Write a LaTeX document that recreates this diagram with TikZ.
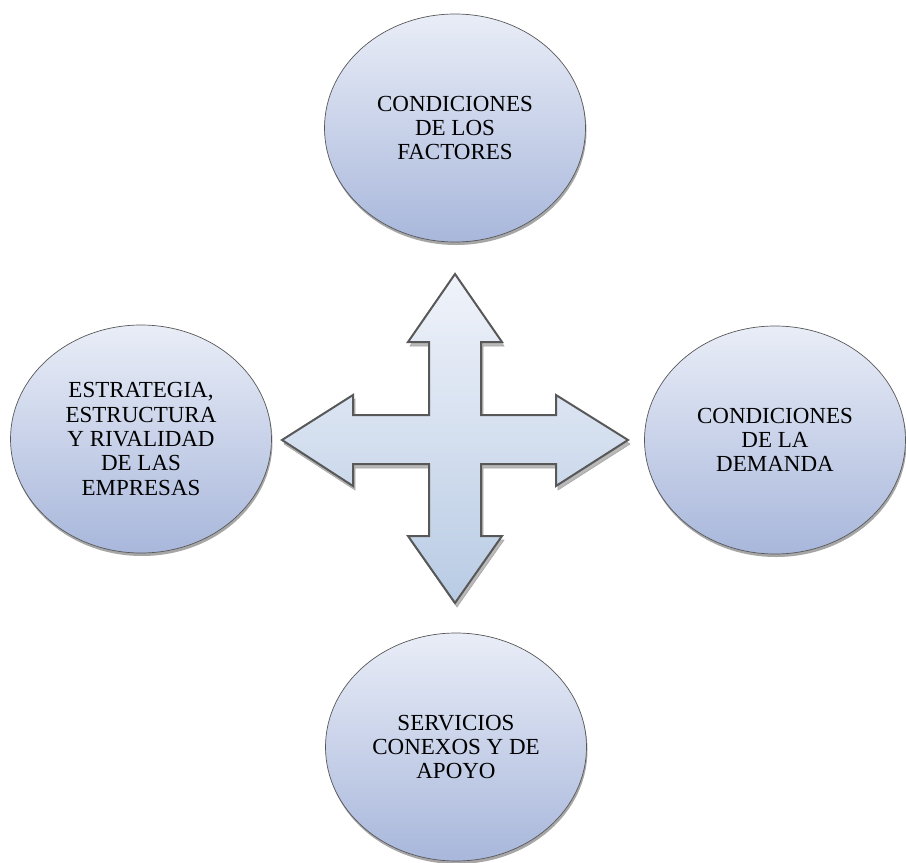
\documentclass[tikz,border=0pt]{standalone}
\usepackage{fontspec}
\setmainfont{Liberation Serif}
\usetikzlibrary{shapes.geometric,shadows}
\definecolor{elltop}{RGB}{233,237,247}
\definecolor{ellbot}{RGB}{168,183,219}
\definecolor{arrtop}{RGB}{240,243,250}
\definecolor{arrbot}{RGB}{184,203,228}
\definecolor{outline}{RGB}{88,88,88}
\tikzset{
  bubble/.style={ellipse, draw=outline, line width=0.7pt,
    top color=elltop, bottom color=ellbot,
    minimum width=261pt, minimum height=228pt, inner sep=0pt,
    align=center, font=\fontsize{23}{24.4}\selectfont,
    drop shadow={shadow xshift=1pt, shadow yshift=-3pt, fill=black, opacity=.35}},
  crossarrow/.style={draw=outline, line width=2pt, line join=miter,
    top color=arrtop, bottom color=arrbot},
  crossshadow/.style={fill=gray!55, draw=gray!70, line width=0.6pt}
}
\begin{document}
\begin{tikzpicture}[x=1pt,y=-1pt]
\useasboundingbox (0,0) rectangle (906,863);
% shadow of the cross arrow
\begin{scope}[shift={(2,4)}]
\fill[crossshadow] (455,274) -- (502,342) -- (481,342) -- (481,415) -- (556,415) -- (556,395)
 -- (628,440) -- (556,486) -- (556,464) -- (481,464) -- (481,536) -- (502,536)
 -- (455,603) -- (408,536) -- (429,536) -- (429,464) -- (353,464) -- (353,486)
 -- (282,440) -- (353,395) -- (353,415) -- (429,415) -- (429,342) -- (408,342) -- cycle;
\end{scope}
% cross arrow
\path[crossarrow] (455,274) -- (502,342) -- (481,342) -- (481,415) -- (556,415) -- (556,395)
 -- (628,440) -- (556,486) -- (556,464) -- (481,464) -- (481,536) -- (502,536)
 -- (455,603) -- (408,536) -- (429,536) -- (429,464) -- (353,464) -- (353,486)
 -- (282,440) -- (353,395) -- (353,415) -- (429,415) -- (429,342) -- (408,342) -- cycle;
% ellipses
\node[bubble] (factores) at (455,128) {CONDICIONES\\DE LOS\\FACTORES};
\node[bubble] (estrategia) at (141,439) {ESTRATEGIA,\\ESTRUCTURA\\Y RIVALIDAD\\DE LAS\\EMPRESAS};
\node[bubble] (demanda) at (775,440) {CONDICIONES\\DE LA\\DEMANDA};
\node[bubble] (servicios) at (456,747) {SERVICIOS\\CONEXOS Y DE\\APOYO};
\end{tikzpicture}
\end{document}
